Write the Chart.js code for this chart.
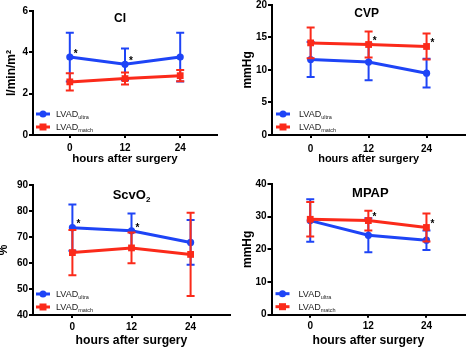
<!DOCTYPE html>
<html><head><meta charset="utf-8">
<script src="https://cdn.jsdelivr.net/npm/chart.js@4/dist/chart.umd.min.js"></script>
<style>
html,body{margin:0;padding:0;background:#fff;}
#wrap{position:relative;width:470px;height:347px;overflow:hidden;background:#fff;}
canvas{position:absolute;}
</style></head><body>
<div id="wrap">
<canvas id="c1" width="235" height="172" style="left:0;top:0"></canvas>
<canvas id="c2" width="235" height="172" style="left:235px;top:0"></canvas>
<canvas id="c3" width="235" height="175" style="left:0;top:172px"></canvas>
<canvas id="c4" width="235" height="175" style="left:235px;top:172px"></canvas>
</div>
<script>
// ---------------- DATA ----------------
const hours = [0, 12, 24];
const hourTicks = [0, 12, 24];
const groupBase = 'LVAD';
const groupSubs = ['ultra', 'match'];
const xTitle = 'hours after surgery';

// CI (l/min/m²)
const ciUltraMean = [3.77, 3.42, 3.77];
const ciUltraSD   = [1.18, 0.77, 1.18];
const ciMatchMean = [2.57, 2.73, 2.87];
const ciMatchSD   = [0.42, 0.29, 0.27];
const ciTicks = [0, 2, 4, 6];
const ciStars = [[0, 0], [0, 1]];   // [series, time index]

// CVP (mmHg)
const cvpUltraMean = [11.6, 11.2, 9.5];
const cvpUltraSD   = [2.7, 2.8, 2.2];
const cvpMatchMean = [14.15, 13.9, 13.6];
const cvpMatchSD   = [2.35, 2.0, 2.0];
const cvpTicks = [0, 5, 10, 15, 20];
const cvpStars = [[1, 1], [1, 2]];

// ScvO2 (%)
const scvUltraMean = [73.6, 72.4, 67.9];
const scvUltraSD   = [8.9, 6.6, 8.6];
const scvMatchMean = [64.0, 65.8, 63.3];
const scvMatchSD   = [8.7, 5.9, 16.0];
const scvTicks = [40, 50, 60, 70, 80, 90];
const scvStars = [[0, 0], [0, 1]];

// MPAP (mmHg)
const mpapUltraMean = [28.8, 24.3, 22.8];
const mpapUltraSD   = [6.5, 5.2, 3.0];
const mpapMatchMean = [29.2, 28.8, 26.7];
const mpapMatchSD   = [5.3, 3.0, 4.3];
const mpapTicks = [0, 10, 20, 30, 40];
const mpapStars = [[1, 1], [1, 2]];

// ---------------- STYLE ----------------
const BLUE = '#1e44f6';
const RED = '#fb2a1a';
const FAMILY = '"Liberation Sans", Arial, Helvetica, sans-serif';
Chart.defaults.font.family = FAMILY;
Chart.defaults.color = '#000';

function drawSub(ctx, main, sub, x, y, mainFont, subFont, align, subDy, color) {
  ctx.save();
  ctx.fillStyle = color;
  ctx.font = mainFont; const w1 = ctx.measureText(main).width;
  ctx.font = subFont; const w2 = ctx.measureText(sub).width;
  const x0 = align === 'center' ? x - (w1 + w2) / 2 : x;
  ctx.textAlign = 'left'; ctx.textBaseline = 'alphabetic';
  ctx.font = mainFont; ctx.fillText(main, x0, y);
  ctx.font = subFont; ctx.fillText(sub, x0 + w1, y + subDy);
  ctx.restore();
}

const errorBarPlugin = {
  id: 'errbars',
  beforeDatasetDraw(chart, args) {
    const ds = chart.data.datasets[args.index];
    const ctx = chart.ctx, xs = chart.scales.x, ys = chart.scales.y;
    ctx.save();
    ctx.strokeStyle = ds.borderColor; ctx.lineWidth = 2;
    ds.means.forEach((m, i) => {
      const x = xs.getPixelForValue(hours[i]);
      const yt = ys.getPixelForValue(m + ds.sds[i]);
      const yb = ys.getPixelForValue(m - ds.sds[i]);
      ctx.beginPath();
      ctx.moveTo(x, yt); ctx.lineTo(x, yb);
      ctx.moveTo(x - 4, yt); ctx.lineTo(x + 4, yt);
      ctx.moveTo(x - 4, yb); ctx.lineTo(x + 4, yb);
      ctx.stroke();
    });
    ctx.restore();
  }
};

const overlayPlugin = {
  id: 'overlay',
  afterDatasetsDraw(chart) {
    const p = chart.options.plugins.overlay;
    const ctx = chart.ctx, a = chart.chartArea, xs = chart.scales.x, ys = chart.scales.y;
    // title inside plot
    const cx = (a.left + a.right) / 2 + p.titleDx;
    const ty = a.top + p.titleDy + p.titleSize * 0.36;
    drawSub(ctx, p.title, p.titleSub || '', cx, ty,
      'bold ' + p.titleSize + 'px ' + FAMILY, 'bold ' + Math.round(p.titleSize * 0.65) + 'px ' + FAMILY,
      'center', 3, '#000');
    // stars
    ctx.save();
    ctx.fillStyle = '#000'; ctx.font = 'bold 10px ' + FAMILY;
    ctx.textAlign = 'center'; ctx.textBaseline = 'middle';
    p.stars.forEach(([s, i]) => {
      const ds = chart.data.datasets[s];
      const x = xs.getPixelForValue(hours[i]);
      const y = ys.getPixelForValue(ds.means[i]);
      ctx.fillText('*', x + 6, y - 3);
    });
    ctx.restore();
    // legend
    chart.data.datasets.forEach((ds, k) => {
      const y = a.bottom - 21 + k * 13;
      const x0 = a.left + p.legDx;
      ctx.save();
      ctx.strokeStyle = ds.borderColor; ctx.fillStyle = ds.borderColor; ctx.lineWidth = 3;
      ctx.beginPath(); ctx.moveTo(x0, y); ctx.lineTo(x0 + 14, y); ctx.stroke();
      if (k === 0) { ctx.beginPath(); ctx.arc(x0 + 7, y, 3.5, 0, Math.PI * 2); ctx.fill(); }
      else { ctx.fillRect(x0 + 7 - 3.5, y - 3.5, 7, 7); }
      ctx.restore();
      drawSub(ctx, groupBase, groupSubs[k], x0 + p.legTextDx, y + 3.3,
        '9px ' + FAMILY, '5.5px ' + FAMILY, 'left', 2, '#222');
    });
  }
};

function makePanel(id, cfg) {
  const mk = (mean, sd, color, style, radius, order) => ({
    data: hours.map((h, i) => ({ x: h, y: mean[i] })),
    means: mean, sds: sd,
    borderColor: color, backgroundColor: color,
    pointBackgroundColor: color, pointBorderColor: color,
    borderWidth: 3, pointStyle: style, pointRadius: radius, pointBorderWidth: 0,
    tension: 0, order: order, clip: false
  });
  new Chart(document.getElementById(id), {
    type: 'line',
    data: { datasets: [
      mk(cfg.ultraMean, cfg.ultraSD, BLUE, 'circle', 3.6, 2),
      mk(cfg.matchMean, cfg.matchSD, RED, 'rect', 4.8, 1)
    ] },
    options: {
      responsive: false, animation: false, devicePixelRatio: 1,
      layout: { padding: { left: 0, top: cfg.top, right: cfg.right, bottom: 0 } },
      plugins: {
        legend: { display: false }, tooltip: { enabled: false }, title: { display: false },
        overlay: { title: cfg.title, titleSub: cfg.titleSub, titleSize: cfg.titleSize,
          titleDx: cfg.titleDx, titleDy: cfg.titleDy, stars: cfg.stars,
          legDx: cfg.legDx, legTextDx: cfg.legTextDx }
      },
      scales: {
        x: {
          type: 'linear', min: -8, max: 32,
          afterBuildTicks: s => { s.ticks = hourTicks.map(v => ({ value: v })); },
          afterFit: s => { s.height = cfg.xH; s.paddingLeft = 0; s.paddingRight = 0; },
          grid: { drawOnChartArea: false, drawTicks: true, tickLength: 3, color: '#000', lineWidth: 2 },
          border: { display: true, color: '#000', width: 2 },
          ticks: { font: { size: 10, weight: 'bold' }, padding: cfg.xTickPad, color: '#000', maxRotation: 0 },
          title: { display: true, text: xTitle, font: { size: cfg.xTitleSize, weight: 'bold', lineHeight: 1 },
            padding: { top: 0, bottom: cfg.xTitlePad }, color: '#000' }
        },
        y: {
          min: cfg.ticks[0], max: cfg.ticks[cfg.ticks.length - 1],
          afterBuildTicks: s => { s.ticks = cfg.ticks.map(v => ({ value: v })); },
          afterFit: s => { s.width = cfg.yW; s.paddingTop = 0; s.paddingBottom = 0; },
          grid: { drawOnChartArea: false, drawTicks: true, tickLength: 4, color: '#000', lineWidth: 2 },
          border: { display: true, color: '#000', width: 2 },
          ticks: { font: { size: 10, weight: 'bold' }, padding: 1, color: '#000' },
          title: { display: true, text: cfg.yTitle, font: { size: 12, weight: 'bold', lineHeight: 1 },
            padding: { top: cfg.yTitlePad, bottom: 0 }, color: '#000' }
        }
      }
    },
    plugins: [errorBarPlugin, overlayPlugin]
  });
}

makePanel('c1', { title: 'CI', titleSize: 12, titleDx: -5, titleDy: 7, yTitle: 'l/min/m²',
  ultraMean: ciUltraMean, ultraSD: ciUltraSD, matchMean: ciMatchMean, matchSD: ciMatchSD,
  ticks: ciTicks, stars: ciStars, top: 11, right: 18, yW: 33, xH: 37, xTickPad: 4,
  xTitleSize: 11.5, xTitlePad: 7, yTitlePad: 6, legDx: 3, legTextDx: 20 });

makePanel('c2', { title: 'CVP', titleSize: 12, titleDx: -2, titleDy: 8, yTitle: 'mmHg',
  ultraMean: cvpUltraMean, ultraSD: cvpUltraSD, matchMean: cvpMatchMean, matchSD: cvpMatchSD,
  ticks: cvpTicks, stars: cvpStars, top: 4, right: 2, yW: 37, xH: 37, xTickPad: 5,
  xTitleSize: 11, xTitlePad: 8, yTitlePad: 7, legDx: 4, legTextDx: 23 });

makePanel('c3', { title: 'ScvO', titleSub: '2', titleSize: 13, titleDx: 0, titleDy: 9, yTitle: '%',
  ultraMean: scvUltraMean, ultraSD: scvUltraSD, matchMean: scvMatchMean, matchSD: scvMatchSD,
  ticks: scvTicks, stars: scvStars, top: 13, right: 5, yW: 33, xH: 32, xTickPad: 3,
  xTitleSize: 12.2, xTitlePad: 0, yTitlePad: -2, legDx: 3, legTextDx: 20 });

makePanel('c4', { title: 'MPAP', titleSize: 13, titleDx: 2, titleDy: 8, yTitle: 'mmHg',
  ultraMean: mpapUltraMean, ultraSD: mpapUltraSD, matchMean: mpapMatchMean, matchSD: mpapMatchSD,
  ticks: mpapTicks, stars: mpapStars, top: 12, right: 2, yW: 36.5, xH: 32.3, xTickPad: 3,
  xTitleSize: 12.2, xTitlePad: 0, yTitlePad: 7, legDx: 4, legTextDx: 23 });
</script>
</body></html>
